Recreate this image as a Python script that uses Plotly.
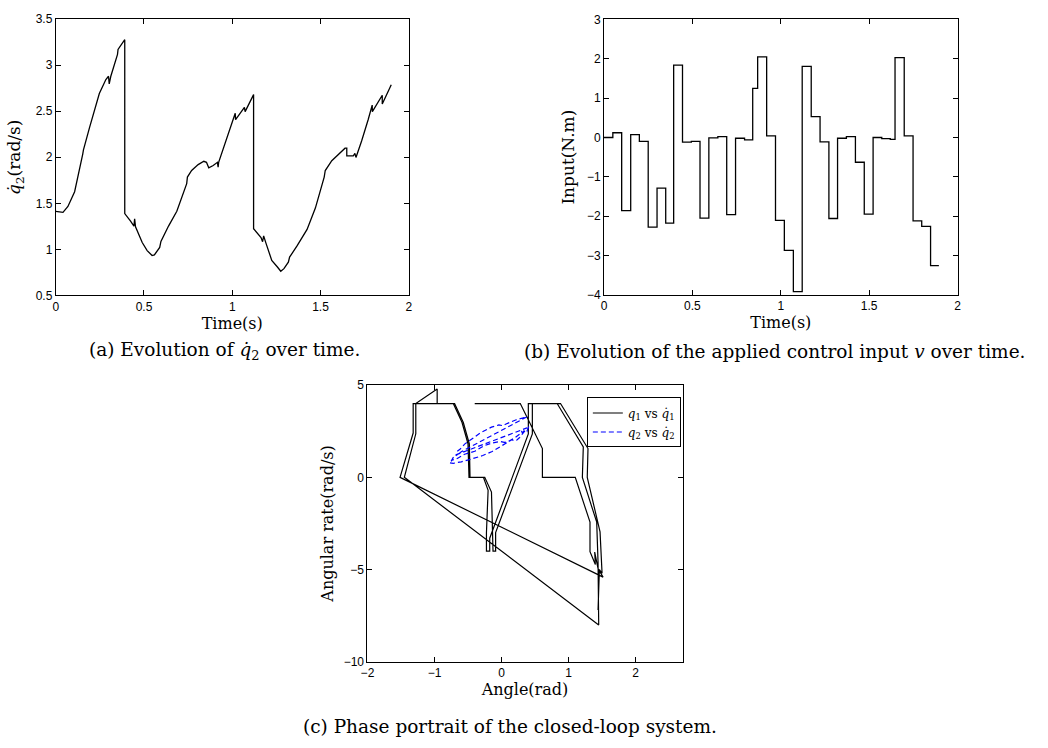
import plotly.graph_objects as go

# ---- (a) angular velocity of joint 2 ----
t_a = [0.000, 0.041, 0.069, 0.107, 0.153, 0.157, 0.191, 0.247, 0.284, 0.299, 0.303, 0.312,
       0.350, 0.353, 0.391, 0.391, 0.424, 0.443, 0.447, 0.452, 0.490, 0.518, 0.546, 0.559,
       0.589, 0.596, 0.639, 0.686, 0.742, 0.746, 0.770, 0.807, 0.839, 0.854, 0.867, 0.892,
       0.916, 0.920, 0.923, 0.957, 0.994, 1.017, 1.019, 1.050, 1.069, 1.073, 1.121, 1.121,
       1.163, 1.172, 1.178, 1.191, 1.224, 1.256, 1.275, 1.293, 1.318, 1.325, 1.368, 1.424,
       1.471, 1.521, 1.527, 1.564, 1.593, 1.639, 1.649, 1.649, 1.686, 1.695, 1.701, 1.733,
       1.770, 1.793, 1.794, 1.817, 1.850, 1.850, 1.864, 1.901]
dq2 = [1.413, 1.402, 1.466, 1.626, 2.034, 2.080, 2.318, 2.691, 2.843, 2.879, 2.797, 2.879,
       3.117, 3.170, 3.276, 1.388, 1.306, 1.253, 1.331, 1.246, 1.075, 0.987, 0.933, 0.940,
       1.022, 1.086, 1.253, 1.413, 1.714, 1.785, 1.856, 1.920, 1.956, 1.945, 1.885, 1.910,
       1.945, 1.892, 1.945, 2.140, 2.336, 2.478, 2.407, 2.495, 2.542, 2.495, 2.680, 1.225,
       1.129, 1.083, 1.147, 1.068, 0.880, 0.809, 0.763, 0.791, 0.862, 0.916, 1.040, 1.217,
       1.448, 1.785, 1.856, 1.963, 2.016, 2.098, 2.098, 2.016, 2.016, 2.041, 1.998, 2.176,
       2.407, 2.566, 2.495, 2.566, 2.673, 2.577, 2.637, 2.786]

# ---- (b) piecewise-constant control input ----
t_switch = [0.000, 0.050, 0.100, 0.151, 0.200, 0.250, 0.300, 0.349, 0.394, 0.444, 0.494,
            0.543, 0.593, 0.644, 0.694, 0.744, 0.795, 0.841, 0.869, 0.920, 0.970, 1.020,
            1.071, 1.121, 1.172, 1.222, 1.272, 1.321, 1.371, 1.422, 1.472, 1.522, 1.571,
            1.619, 1.646, 1.698, 1.748, 1.797, 1.847]
t_end = 1.894
u_level = [0.00, 0.12, -1.86, 0.07, -0.10, -2.28, -1.29, -2.18, 1.84, -0.12, -0.10,
           -2.05, -0.01, 0.02, -1.96, -0.02, -0.06, 1.25, 2.05, 0.04, -2.11, -2.87,
           -3.92, 1.81, 0.53, -0.11, -2.06, -0.02, 0.02, -0.63, -1.95, 0.00, -0.03,
           -0.05, 2.03, 0.04, -2.12, -2.26, -3.26]

# ---- (c) phase portrait ----
q1 = [-0.40, 0.28, 0.61, 0.61, 1.10, 1.32, 1.32, 1.40, 1.39, 1.44, 1.515,
      -1.514, -1.318, -1.318, -0.72, -0.59, -0.50, -0.485, -0.27, -0.20, -0.225, -0.225,
      -0.176, -0.176, 0.40, 0.40, 0.83, 1.22, 1.206, 1.42, 1.44, 1.45,
      -1.45, -1.279, -1.279, -0.96, -0.96, -0.70, -0.57, -0.48, -0.47, -0.25, -0.15,
      -0.127, -0.127, -0.088, -0.088, 0.46, 0.46, 0.88, 1.29, 1.279, 1.47, 1.50, 1.46, 1.44]
dq1 = [4.00, 4.00, 1.56, 0.00, 0.00, -2.43, -4.03, -4.73, -4.05, -4.95, -5.41,
       0.00, 2.40, 4.00, 4.00, 2.98, 1.82, 0.00, 0.00, -0.70, -3.00, -4.00,
       -4.00, -3.30, 2.35, 4.00, 4.00, 1.65, 0.00, -2.43, -4.60, -8.00,
       0.00, 2.36, 4.00, 4.79, 4.00, 4.00, 2.98, 1.82, 0.00, 0.00, -0.80,
       -3.00, -4.00, -4.00, -3.00, 2.35, 4.00, 4.00, 1.56, 0.00, -2.96, -5.20, -5.00, -7.20]

q2 = [-0.66, -0.62, -0.55, -0.45, -0.32, -0.15, -0.04, 0.02, 0.06, 0.22, 0.38,
      -0.60, -0.64, -0.62, -0.72, -0.74, -0.66, -0.55, -0.40, -0.26, -0.14, -0.02, 0.04,
      0.10, 0.20, 0.27, 0.30, 0.31, 0.34, 0.38,
      -0.68, -0.72, -0.75, -0.78, -0.72, -0.60, -0.46, -0.28, -0.14, 0.00, 0.08, 0.16,
      0.18, 0.23, 0.27, 0.32, 0.36, 0.38, 0.40, 0.41]
dq2_phase = [1.41, 1.52, 1.80, 2.05, 2.40, 2.72, 2.84, 2.80, 2.88, 3.12, 3.28,
             1.39, 1.25, 1.33, 1.08, 0.93, 1.02, 1.25, 1.41, 1.71, 1.86, 1.95, 1.89,
             1.94, 2.14, 2.34, 2.48, 2.41, 2.54, 2.68,
             1.22, 1.08, 0.88, 0.79, 0.76, 0.84, 0.98, 1.18, 1.40, 1.70, 1.90, 2.05,
             1.98, 2.02, 2.16, 2.41, 2.57, 2.50, 2.67, 2.79]

TICK_FONT = dict(family="Liberation Sans, Arial, sans-serif", size=12, color="black")
TITLE_FONT = dict(family="DejaVu Serif, serif", size=16, color="black")
CAP_FONT = dict(family="DejaVu Serif, serif", size=18.5, color="black")

fig = go.Figure()

fig.add_trace(go.Scatter(x=t_a, y=dq2, mode="lines", xaxis="x", yaxis="y",
                         line=dict(color="black", width=1.3), showlegend=False))

fig.add_trace(go.Scatter(x=t_switch + [t_end], y=u_level + [u_level[-1]], mode="lines",
                         xaxis="x2", yaxis="y2", line=dict(color="black", width=1.3, shape="hv"),
                         showlegend=False))

fig.add_trace(go.Scatter(x=q1, y=dq1, mode="lines", xaxis="x3", yaxis="y3",
                         line=dict(color="black", width=1.2),
                         name="<i>q</i><sub>1</sub> vs <i>q̇</i><sub>1</sub>"))
fig.add_trace(go.Scatter(x=q2, y=dq2_phase, mode="lines", xaxis="x3", yaxis="y3",
                         line=dict(color="#0000ff", width=1.2, dash="5px,3px"),
                         name="<i>q</i><sub>2</sub> vs <i>q̇</i><sub>2</sub>"))


def axis(domain, rng, tickvals, anchor, title=None, standoff=4, title_size=16):
    d = dict(domain=domain, range=rng, tickvals=tickvals,
             ticktext=[("%g" % v).replace("-", "\u2212") for v in tickvals],
             anchor=anchor, showline=True, linecolor="black", linewidth=1,
             mirror="ticks", ticks="inside", ticklen=5, tickcolor="black",
             showgrid=False, zeroline=False, tickfont=TICK_FONT)
    if title:
        d["title"] = dict(text=title, font=dict(TITLE_FONT, size=title_size), standoff=standoff)
    return d


fig.update_layout(
    width=1048, height=748,
    margin=dict(l=0, r=0, t=0, b=0),
    paper_bgcolor="white", plot_bgcolor="white",
    xaxis=axis([0.0470, 0.3874], [0, 2], [0, 0.5, 1, 1.5, 2], "y", "Time(s)", 1),
    yaxis=axis([0.6070, 0.9836], [0.5, 3.5], [0.5, 1, 1.5, 2, 2.5, 3, 3.5], "x",
               "<i>q̇</i><sub>2</sub>(rad/s)", 10, 17),
    xaxis2=axis([0.5757, 0.9167], [0, 2], [0, 0.5, 1, 1.5, 2], "y2", "Time(s)", 1),
    yaxis2=axis([0.6079, 0.9830], [-4, 3], [-4, -3, -2, -1, 0, 1, 2, 3], "x2",
                "Input(N.m)", 7, 17),
    xaxis3=axis([0.3476, 0.6514], [-2, 2.7], [-2, -1, 0, 1, 2], "y3", "Angle(rad)", 1),
    yaxis3=axis([0.1079, 0.4849], [-10, 5], [-10, -5, 0, 5], "x3", "Angular rate(rad/s)", 6),
    legend=dict(x=0.6498, xanchor="right", y=0.468, yanchor="top",
                bgcolor="white", bordercolor="black", borderwidth=1,
                font=dict(family="DejaVu Serif, serif", size=12, color="black"),
                tracegroupgap=0, itemwidth=30),
    annotations=[
        dict(text="(a) Evolution of <i>q̇</i><sub>2</sub> over time.", x=220 / 1048, y=1 - 351 / 748,
             xref="paper", yref="paper", xanchor="center", yanchor="middle",
             showarrow=False, font=CAP_FONT),
        dict(text="(b) Evolution of the applied control input <i>v</i> over time.", x=776 / 1048,
             y=1 - 351 / 748, xref="paper", yref="paper", xanchor="center", yanchor="middle",
             showarrow=False, font=CAP_FONT),
        dict(text="(c) Phase portrait of the closed-loop system.", x=508 / 1048, y=1 - 733 / 748,
             xref="paper", yref="paper", xanchor="center", yanchor="middle",
             showarrow=False, font=CAP_FONT),
    ],
)

fig.write_html("out.html")
